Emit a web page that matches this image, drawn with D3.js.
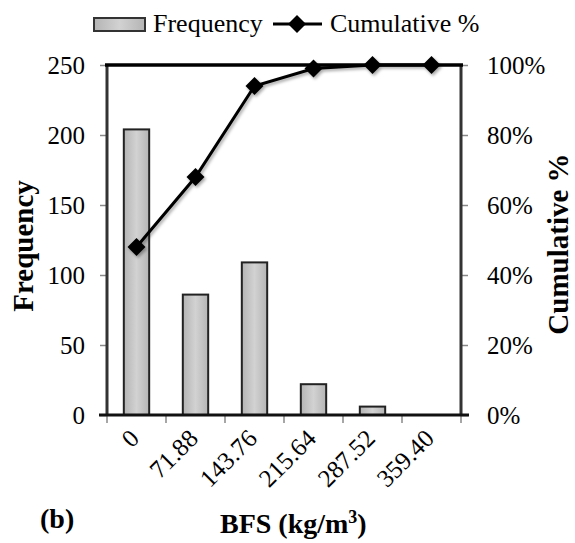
<!DOCTYPE html>
<html>
<head>
<meta charset="utf-8">
<script src="https://cdn.jsdelivr.net/npm/d3@7"></script>
</head>
<body style="margin:0; background:#fff">
<div id="chart"></div>
<script>
// data
var categories = ["0", "71.88", "143.76", "215.64", "287.52", "359.40"];
var frequency = [204, 86, 109, 22, 6, 0];
var cumulative = [48, 68, 94, 99, 100, 100];
var freqTicks = [0, 50, 100, 150, 200, 250];
var pctTicks = [0, 20, 40, 60, 80, 100];

var svgWidth = 575;
var svgHeight = 543;
var serif = "'Liberation Serif'";

// plot area
var margin = { top: 65, right: 114, bottom: 128, left: 107 };
var width = svgWidth - margin.left - margin.right;
var height = svgHeight - margin.top - margin.bottom;

var svg = d3.select("#chart")
  .append("svg")
  .attr("width", svgWidth)
  .attr("height", svgHeight);

// bar gradient + soft shadow
var defs = svg.append("defs");
var grad = defs.append("linearGradient").attr("id", "barGrad")
  .attr("x1", "0%").attr("x2", "100%").attr("y1", "0%").attr("y2", "0%");
grad.append("stop").attr("offset", "0%").attr("stop-color", "#b4b4b4");
grad.append("stop").attr("offset", "50%").attr("stop-color", "#d2d2d2");
grad.append("stop").attr("offset", "100%").attr("stop-color", "#b4b4b4");

var shadow = defs.append("filter").attr("id", "shadow")
  .attr("x", "-20%").attr("y", "-20%").attr("width", "140%").attr("height", "140%");
shadow.append("feDropShadow")
  .attr("dx", 1.5).attr("dy", 2).attr("stdDeviation", 1.5)
  .attr("flood-color", "#000").attr("flood-opacity", 0.35);

var chartGroup = svg.append("g")
  .attr("transform", `translate(${margin.left}, ${margin.top})`);

var x = d3.scaleBand().domain(categories).range([0, width]).padding(0);
var y = d3.scaleLinear().domain([0, 250]).range([height, 0]);
var y2 = d3.scaleLinear().domain([0, 100]).range([height, 0]);

// bars
var barW = x.bandwidth() * 0.43;
chartGroup.selectAll("rect.bar")
  .data(frequency)
  .enter()
  .append("rect")
  .attr("class", "bar")
  .attr("x", (d, i) => x(categories[i]) + x.bandwidth() / 2 - barW / 2)
  .attr("y", d => y(d))
  .attr("width", barW)
  .attr("height", d => height - y(d))
  .attr("fill", "url(#barGrad)")
  .attr("stroke", "#222")
  .attr("stroke-width", 2);

// axes
var leftAxis = d3.axisLeft(y).tickValues(freqTicks).tickSize(7).tickPadding(15);
var rightAxis = d3.axisRight(y2).tickValues(pctTicks).tickSize(7).tickPadding(19)
  .tickFormat(d => d + "%");

var gl = chartGroup.append("g").call(leftAxis);
var gr = chartGroup.append("g").attr("transform", `translate(${width}, 0)`).call(rightAxis);

[gl, gr].forEach(function(g) {
  g.attr("font-family", null).attr("font-size", null);
  g.select(".domain").remove();
  g.selectAll(".tick line").attr("stroke", "#888").attr("stroke-width", 1.5);
  g.selectAll(".tick text")
    .attr("font-family", serif)
    .attr("font-size", 25)
    .attr("fill", "#000")
    .attr("dy", "0.34em");
});

// axis lines
chartGroup.append("line").attr("x1", 0).attr("x2", 0).attr("y1", 0).attr("y2", height)
  .attr("stroke", "#333").attr("stroke-width", 3);
chartGroup.append("line").attr("x1", width).attr("x2", width).attr("y1", 0).attr("y2", height)
  .attr("stroke", "#333").attr("stroke-width", 3);

// bottom ticks at band edges
var edges = categories.map(c => x(c)).concat([width]);
chartGroup.selectAll("line.xtick")
  .data(edges)
  .enter()
  .append("line")
  .attr("x1", d => d).attr("x2", d => d)
  .attr("y1", height).attr("y2", height + 8)
  .attr("stroke", "#888").attr("stroke-width", 1.5);

chartGroup.append("line").attr("x1", -8).attr("x2", width + 8).attr("y1", height).attr("y2", height)
  .attr("stroke", "#111").attr("stroke-width", 3);

// top line
chartGroup.append("line").attr("x1", -2).attr("x2", width + 2).attr("y1", 0).attr("y2", 0)
  .attr("stroke", "#000").attr("stroke-width", 3.5);

// category labels
chartGroup.selectAll("text.xlab")
  .data(categories)
  .enter()
  .append("text")
  .attr("class", "xlab")
  .attr("transform", d => `translate(${x(d) + x.bandwidth() / 2 + 4}, ${height + 25}) rotate(-45)`)
  .attr("text-anchor", "end")
  .attr("font-family", serif)
  .attr("font-size", 25)
  .text(d => d);

// cumulative line
var line = d3.line()
  .x((d, i) => x(categories[i]) + x.bandwidth() / 2)
  .y(d => y2(d));

var cumGroup = chartGroup.append("g").attr("filter", "url(#shadow)");

cumGroup.append("path")
  .datum(cumulative)
  .attr("d", line)
  .attr("fill", "none")
  .attr("stroke", "#000")
  .attr("stroke-width", 3);

var diamond = "M0,-9L9,0L0,9L-9,0Z";
cumGroup.selectAll("path.mark")
  .data(cumulative)
  .enter()
  .append("path")
  .attr("class", "mark")
  .attr("d", diamond)
  .attr("transform", (d, i) => `translate(${x(categories[i]) + x.bandwidth() / 2}, ${y2(d)})`)
  .attr("fill", "#000");

// axis titles
svg.append("text")
  .attr("transform", "translate(33, 246) rotate(-90)")
  .attr("text-anchor", "middle")
  .attr("font-family", serif)
  .attr("font-size", 29)
  .attr("font-weight", "bold")
  .text("Frequency");

svg.append("text")
  .attr("transform", "translate(568, 244) rotate(-90)")
  .attr("text-anchor", "middle")
  .attr("font-family", serif)
  .attr("font-size", 29)
  .attr("font-weight", "bold")
  .text("Cumulative  %");

var xt = svg.append("text")
  .attr("x", 220)
  .attr("y", 533)
  .attr("font-family", serif)
  .attr("font-size", 28)
  .attr("font-weight", "bold");
xt.append("tspan").text("BFS (kg/m");
xt.append("tspan").attr("dy", -10).attr("font-size", 18).text("3");
xt.append("tspan").attr("dy", 10).text(")");

svg.append("text")
  .attr("x", 40)
  .attr("y", 528)
  .attr("font-family", serif)
  .attr("font-size", 28)
  .attr("font-weight", "bold")
  .text("(b)");

// legend
var legend = svg.append("g");
legend.append("rect")
  .attr("x", 94).attr("y", 18).attr("width", 51).attr("height", 13)
  .attr("fill", "url(#barGrad)").attr("stroke", "#333").attr("stroke-width", 2);
legend.append("text").attr("x", 153).attr("y", 32)
  .attr("font-family", serif).attr("font-size", 26).text("Frequency");
legend.append("line").attr("x1", 273).attr("x2", 322).attr("y1", 24).attr("y2", 24)
  .attr("stroke", "#000").attr("stroke-width", 3);
legend.append("path").attr("d", diamond).attr("transform", "translate(297, 24)").attr("fill", "#000");
legend.append("text").attr("x", 330).attr("y", 32)
  .attr("font-family", serif).attr("font-size", 26).text("Cumulative %");
</script>
</body>
</html>
